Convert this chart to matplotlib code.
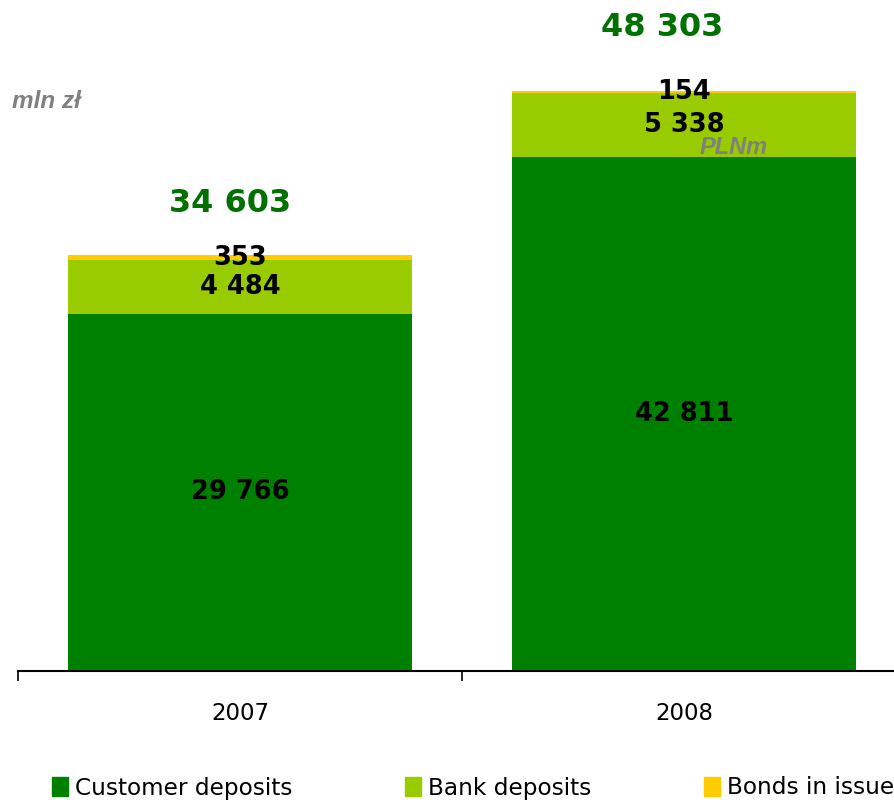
import numpy as np
import matplotlib
matplotlib.use('Agg')
import matplotlib.pyplot as plt
from matplotlib.patches import Patch

years = ['2007', '2008']
customer = [29766, 42811]
bank = [4484, 5338]
bonds = [353, 154]
totals = [34603, 48303]
labels_customer = ['29 766', '42 811']
labels_bank = ['4 484', '5 338']
labels_bonds = ['353', '154']
labels_total = ['34 603', '48 303']
series_names = ['Customer deposits', 'Bank deposits', 'Bonds in issue']

c_cust = '#008000'
c_bank = '#99CC00'
c_bond = '#FFCC00'
c_total = '#007000'
c_gray = '#808080'

fig = plt.figure(figsize=(8.94, 8.0), dpi=100)
ax = fig.add_axes([18 / 894, 1 - 671 / 800, 888 / 894, 671 / 800])

x = np.arange(len(years))
w = 0.773
cust = np.array(customer)
bk = np.array(bank)
bd = np.array(bonds)
ax.bar(x, cust, w, color=c_cust)
ax.bar(x, bk, w, bottom=cust, color=c_bank)
ax.bar(x, bd, w, bottom=cust + bk, color=c_bond)

ax.set_xlim(-0.5, 1.5)
ax.set_ylim(0, 55870)

lab = dict(ha='center', va='center', fontsize=18.5, fontweight='bold', color='black')
for i in range(len(years)):
    ax.text(x[i], cust[i] / 2, labels_customer[i], **lab)
    ax.text(x[i], cust[i] + bk[i] / 2, labels_bank[i], **lab)
    ax.text(x[i], cust[i] + bk[i] + bd[i] / 2, labels_bonds[i], **lab)

# totals above the bars
tot_off = [52, 63]
tot_dx = [-10, -22]
for i in range(len(years)):
    ax.annotate(labels_total[i], (x[i], totals[i]), xytext=(tot_dx[i] * 0.72, tot_off[i] * 0.72),
                textcoords='offset points', ha='center', va='center',
                fontsize=23, fontweight='bold', color=c_total)

for s in ['top', 'right', 'left']:
    ax.spines[s].set_visible(False)
ax.spines['bottom'].set_linewidth(1.5)
ax.set_yticks([])
ax.set_xticks([-0.5, 0.5, 1.5])
ax.set_xticklabels([])
ax.tick_params(axis='x', which='major', direction='out', length=7, width=1.2)
ax.set_xticks(x, minor=True)
ax.set_xticklabels(years, minor=True, fontsize=16.5)
ax.tick_params(axis='x', which='minor', length=0, pad=22)

fig.text(12 / 894, 1 - 101 / 800, 'mln zł', family='Liberation Sans', fontsize=17.5,
         fontweight='bold', style='italic', color=c_gray, ha='left', va='center')
fig.text(700 / 894, 1 - 148 / 800, 'PLNm', family='Liberation Sans', fontsize=17,
         fontweight='bold', style='italic', color=c_gray, ha='left', va='center')

handles = [Patch(color=c) for c in [c_cust, c_bank, c_bond]]
fig.legend(handles, series_names, loc='center left', bbox_to_anchor=(52 / 894, 1 - 788 / 800),
           ncol=3, frameon=False, fontsize=16.7, handlelength=0.7, handleheight=0.9,
           handletextpad=0.3, columnspacing=4.85, borderaxespad=0, borderpad=0)

fig.savefig('out.png', dpi=100)
